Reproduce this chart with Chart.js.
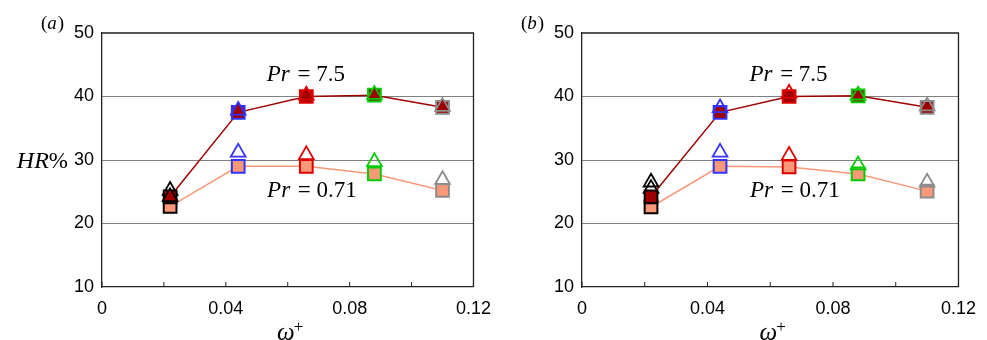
<!DOCTYPE html>
<html>
<head>
<meta charset="utf-8">
<script src="https://cdn.jsdelivr.net/npm/chart.js@4.4.0/dist/chart.umd.min.js"></script>
<style>
    html, body { margin: 0; padding: 0; background: #ffffff; }
    body { width: 987px; height: 340px; position: relative; overflow: hidden; }
    canvas { position: absolute; top: 0; }
    #panelA { left: 0; }
    #panelB { left: 480px; }
</style>
</head>
<body>
<canvas id="panelA" width="502" height="340"></canvas>
<canvas id="panelB" width="507" height="340"></canvas>
<script>
// ---- data ----
const omegaPlus = [0.022, 0.044, 0.066, 0.088, 0.110];
const markerColors = ['#000000', '#3333ff', '#dd0000', '#00cc00', '#8c8c8c'];
const xTickLabels = [0, 0.04, 0.08, 0.12];
const yTickValues = [10, 20, 30, 40, 50];
const yGridValues = [20, 30, 40];

// panel (a)
const squaresHighA = [24.2, 37.5, 40.0, 40.2, 38.3];
const trianglesHighA = [24.2, 37.8, 40.2, 40.3, 38.4];
const squaresLowA = [22.7, 29.0, 29.0, 27.8, 25.2];
const trianglesLowA = [25.2, 31.2, 30.8, 29.7, 26.9];

// panel (b)
const squaresHighB = [24.2, 37.5, 40.0, 40.1, 38.3];
const trianglesHighB = [26.5, 38.2, 40.5, 40.2, 38.5];
const squaresLowB = [22.6, 29.0, 28.9, 27.8, 25.1];
const trianglesLowB = [25.5, 31.2, 30.7, 29.2, 26.5];

const DARK_RED = '#9e0000';
const SALMON = '#fa9878';
const SERIF = '"Liberation Serif", "DejaVu Serif", serif';
const SANS = '"Liberation Sans", Arial, sans-serif';

function toPoints(values) {
    return omegaPlus.map((x, i) => ({ x: x, y: values[i] }));
}

// box, inward ticks and the LaTeX-like labels
const decorPlugin = {
    id: 'decor',
    afterDraw(chart) {
        const ctx = chart.ctx;
        const area = chart.chartArea;
        const xs = chart.scales.x;
        const ys = chart.scales.y;
        const opts = chart.options.plugins.decor;
        ctx.save();

        // top and right frame lines
        ctx.strokeStyle = '#222222';
        ctx.lineWidth = 1.3;
        ctx.beginPath();
        ctx.moveTo(area.left, area.top);
        ctx.lineTo(area.right, area.top);
        ctx.lineTo(area.right, area.bottom);
        ctx.stroke();

        // inward ticks on the bottom axis
        ctx.lineWidth = 1;
        xs.ticks.forEach(t => {
            const px = xs.getPixelForValue(t.value);
            ctx.beginPath();
            ctx.moveTo(px, area.bottom);
            ctx.lineTo(px, area.bottom - 5);
            ctx.stroke();
        });

        ctx.fillStyle = '#000000';
        ctx.textBaseline = 'alphabetic';

        // panel letter
        ctx.textAlign = 'left';
        let lx = area.left - 61;
        ctx.font = '19px ' + SERIF;
        ctx.fillText('(', lx, 29);
        lx += ctx.measureText('(').width;
        ctx.font = 'italic 19px ' + SERIF;
        ctx.fillText(opts.letter, lx, 29);
        lx += ctx.measureText(opts.letter).width + 1;
        ctx.font = '19px ' + SERIF;
        ctx.fillText(')', lx, 29);

        // y axis title
        if (opts.yTitle) {
            const yc = ys.getPixelForValue(30) + 8;
            ctx.font = 'italic 24px ' + SERIF;
            const hr = 'HR';
            const wHr = ctx.measureText(hr).width;
            ctx.font = '23px ' + SERIF;
            const wPct = ctx.measureText('%').width;
            const right = area.left - 34;
            ctx.font = 'italic 24px ' + SERIF;
            ctx.fillText(hr, right - wPct - wHr, yc);
            ctx.font = '23px ' + SERIF;
            ctx.fillText('%', right - wPct, yc);
        }

        // x axis title
        const cx = (area.left + area.right) / 2;
        ctx.font = 'italic 25px ' + SERIF;
        ctx.textAlign = 'center';
        ctx.fillText('\u03c9', cx - 2, 340);
        ctx.font = '17px ' + SERIF;
        ctx.textAlign = 'left';
        ctx.fillText('+', cx + 6, 332);

        // Pr labels
        opts.prLabels.forEach(lab => {
            const px = xs.getPixelForValue(lab.x);
            const py = ys.getPixelForValue(lab.y) + 8;
            ctx.font = 'italic 23px ' + SERIF;
            const w1 = ctx.measureText('Pr').width;
            ctx.font = '23px ' + SERIF;
            const rest = ' = ' + lab.text;
            const w2 = ctx.measureText(rest).width;
            const start = px - (w1 + w2) / 2;
            ctx.font = 'italic 23px ' + SERIF;
            ctx.fillText('Pr', start, py);
            ctx.font = '23px ' + SERIF;
            ctx.fillText(rest, start + w1 + 2, py);
        });

        ctx.restore();
    }
};

function makePanel(canvasId, letter, sqHigh, triHigh, sqLow, triLow, highTriFilled, padRight, showYTitle) {
    const ctx = document.getElementById(canvasId);
    if (!ctx) return;

    new Chart(ctx, {
        type: 'line',
        data: {
            datasets: [
                {
                    // Pr = 7.5 triangles
                    data: toPoints(triHigh),
                    showLine: false,
                    pointStyle: 'triangle',
                    pointRadius: 8.5,
                    pointBorderWidth: 1.8,
                    pointBorderColor: markerColors,
                    pointBackgroundColor: highTriFilled ? DARK_RED : 'rgba(255,255,255,0)',
                    order: 1
                },
                {
                    // Pr = 7.5 squares + line
                    data: toPoints(sqHigh),
                    borderColor: DARK_RED,
                    borderWidth: 1.5,
                    pointStyle: 'rect',
                    pointRadius: 9,
                    pointBorderWidth: 2,
                    pointBorderColor: markerColors,
                    pointBackgroundColor: DARK_RED,
                    order: 2
                },
                {
                    // Pr = 0.71 hollow triangles
                    data: toPoints(triLow),
                    showLine: false,
                    pointStyle: 'triangle',
                    pointRadius: 8.5,
                    pointBorderWidth: 1.8,
                    pointBorderColor: markerColors,
                    pointBackgroundColor: 'rgba(255,255,255,0)',
                    order: 3
                },
                {
                    // Pr = 0.71 squares + line
                    data: toPoints(sqLow),
                    borderColor: SALMON,
                    borderWidth: 1.5,
                    pointStyle: 'rect',
                    pointRadius: 9,
                    pointBorderWidth: 2,
                    pointBorderColor: markerColors,
                    pointBackgroundColor: SALMON,
                    order: 4
                }
            ]
        },
        options: {
            responsive: false,
            animation: false,
            layout: {
                padding: { left: 0, top: 33, right: padRight, bottom: 0 }
            },
            plugins: {
                legend: { display: false },
                tooltip: { enabled: false },
                decor: {
                    letter: letter,
                    yTitle: showYTitle,
                    prLabels: [
                        { x: 0.0655, y: 43.7, text: '7.5' },
                        { x: 0.0675, y: 25.4, text: '0.71' }
                    ]
                }
            },
            scales: {
                x: {
                    type: 'linear',
                    min: 0,
                    max: 0.12,
                    afterFit: function(scale) { scale.height = 53; },
                    grid: { display: false, drawTicks: false },
                    border: { display: true, color: '#222222', width: 1.3 },
                    ticks: {
                        stepSize: 0.02,
                        autoSkip: false,
                        maxRotation: 0,
                        padding: 11,
                        color: '#000000',
                        font: { family: SANS, size: 18 },
                        callback: function(value) {
                            const v = Math.round(value * 100) / 100;
                            return xTickLabels.includes(v) ? String(v) : '';
                        }
                    }
                },
                y: {
                    min: yTickValues[0],
                    max: yTickValues[yTickValues.length - 1],
                    afterFit: function(scale) { scale.width = 102; },
                    grid: {
                        drawTicks: false,
                        lineWidth: 1,
                        color: function(c) {
                            return yGridValues.includes(c.tick.value) ? '#808080' : 'rgba(0,0,0,0)';
                        }
                    },
                    border: { display: true, color: '#222222', width: 1.3 },
                    ticks: {
                        stepSize: 10,
                        padding: 8,
                        color: '#000000',
                        font: { family: SANS, size: 18 }
                    }
                }
            }
        },
        plugins: [decorPlugin]
    });
}

document.addEventListener('DOMContentLoaded', function() {
    makePanel('panelA', 'a', squaresHighA, trianglesHighA, squaresLowA, trianglesLowA, true, 20, true);
    makePanel('panelB', 'b', squaresHighB, trianglesHighB, squaresLowB, trianglesLowB, false, 25, false);
});
</script>
</body>
</html>
